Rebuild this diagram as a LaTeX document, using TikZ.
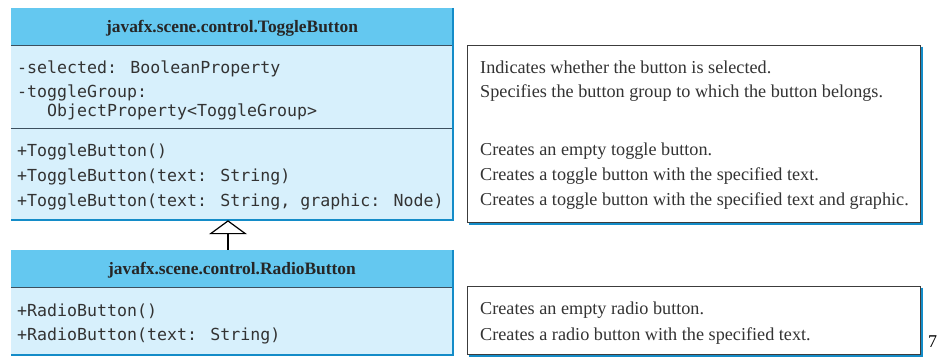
\documentclass[tikz,border=0pt]{standalone}
\usepackage{fontspec}
\setmainfont{Liberation Serif}
\newfontfamily\monof{DejaVu Sans Mono}
\usetikzlibrary{arrows.meta,calc}
\definecolor{headfill}{RGB}{100,200,240}
\definecolor{bodyfill}{RGB}{215,240,252}
\definecolor{shadowblue}{RGB}{20,140,200}
\definecolor{sepline}{RGB}{60,80,95}
\definecolor{descline}{RGB}{60,60,60}
\begin{document}
\begin{tikzpicture}[x=1pt,y=-1pt,
  headbox/.style={fill=headfill, minimum width=442pt, inner sep=0pt, text depth=0pt, font=\fontsize{17.4}{20}\selectfont\bfseries, text=black!85},
  bodybox/.style={fill=bodyfill, minimum width=442pt, inner sep=0pt},
  mono/.style={anchor=west, inner sep=0pt, font=\monof\fontsize{16.6}{20}\selectfont, text=black!80},
  desc/.style={anchor=west, inner sep=0pt, font=\fontsize{18.2}{21}\selectfont, text=black!80},
  descbox/.style={draw=descline, line width=1pt, fill=white, minimum width=453pt, inner sep=0pt},
  sep/.style={draw=sepline, line width=1.2pt},
  shade/.style={draw=shadowblue, line width=2.2pt},
  ]
\useasboundingbox (0,0) rectangle (937,357);
% ToggleButton class
\node[headbox, minimum height=37pt] (tgh) at (232,26.5) {javafx.scene.control.ToggleButton};
\node[bodybox, minimum height=83pt] (tga) at (232,86.5) {};
\node[bodybox, minimum height=92pt] (tgm) at (232,174) {};
\draw[sep] (tgh.south west) -- (tgh.south east);
\draw[sep] (tga.south west) -- (tga.south east);
\draw[shade] (tgh.north east) -- (tgm.south east) -- (tgm.south west);
\node[mono] (t1) at (17,69) {-selected: BooleanProperty};
\node[mono] (t2) at (17,93) {-toggleGroup:};
\node[mono] (t3) at (47,112) {ObjectProperty<ToggleGroup>};
\node[mono] (t4) at (17,152) {+ToggleButton()};
\node[mono] (t5) at (17,177) {+ToggleButton(text: String)};
\node[mono] (t6) at (17,202) {+ToggleButton(text: String, graphic: Node)};
% RadioButton class
\node[headbox, minimum height=37pt] (rbh) at (232,268.5) {javafx.scene.control.RadioButton};
\node[bodybox, minimum height=68pt] (rbm) at (232,321) {};
\draw[sep] (rbh.south west) -- (rbh.south east);
\draw[shade] (rbh.north east) -- (rbm.south east) -- (rbm.south west);
\node[mono] (r1) at (17,311) {+RadioButton()};
\node[mono] (r2) at (17,336) {+RadioButton(text: String)};
% inheritance
\coordinate (ax) at (228,0);
\draw[line width=1.2pt, -{Triangle[width=38pt, length=14pt, fill=white, line width=1.2pt]}] (rbh.north -| ax) -- (tgm.south -| ax);
% description boxes
\node[descbox, minimum height=177pt] (d1) at (693.5,133.5) {};
\draw[shade] ($(d1.north east)+(1.6,2)$) -- ($(d1.south east)+(1.6,1.6)$) -- ($(d1.south west)+(2,1.6)$);
\node[desc] (e1) at (480,67) {Indicates whether the button is selected.};
\node[desc] (e2) at (480,93) {Specifies the button group to which the button belongs.};
\node[desc] (e3) at (480,151) {Creates an empty toggle button.};
\node[desc] (e4) at (480,176) {Creates a toggle button with the specified text.};
\node[desc] (e5) at (480,201) {Creates a toggle button with the specified text and graphic.};
\node[descbox, minimum height=68pt] (d2) at (693.5,320) {};
\draw[shade] ($(d2.north east)+(1.6,2)$) -- ($(d2.south east)+(1.6,1.6)$) -- ($(d2.south west)+(2,1.6)$);
\node[desc] (e6) at (480,310) {Creates an empty radio button.};
\node[desc] (e7) at (480,336) {Creates a radio button with the specified text.};
\node[anchor=west, inner sep=0pt, font=\fontsize{18}{20}\selectfont] (pg) at (928,342) {7};
\end{tikzpicture}
\end{document}
